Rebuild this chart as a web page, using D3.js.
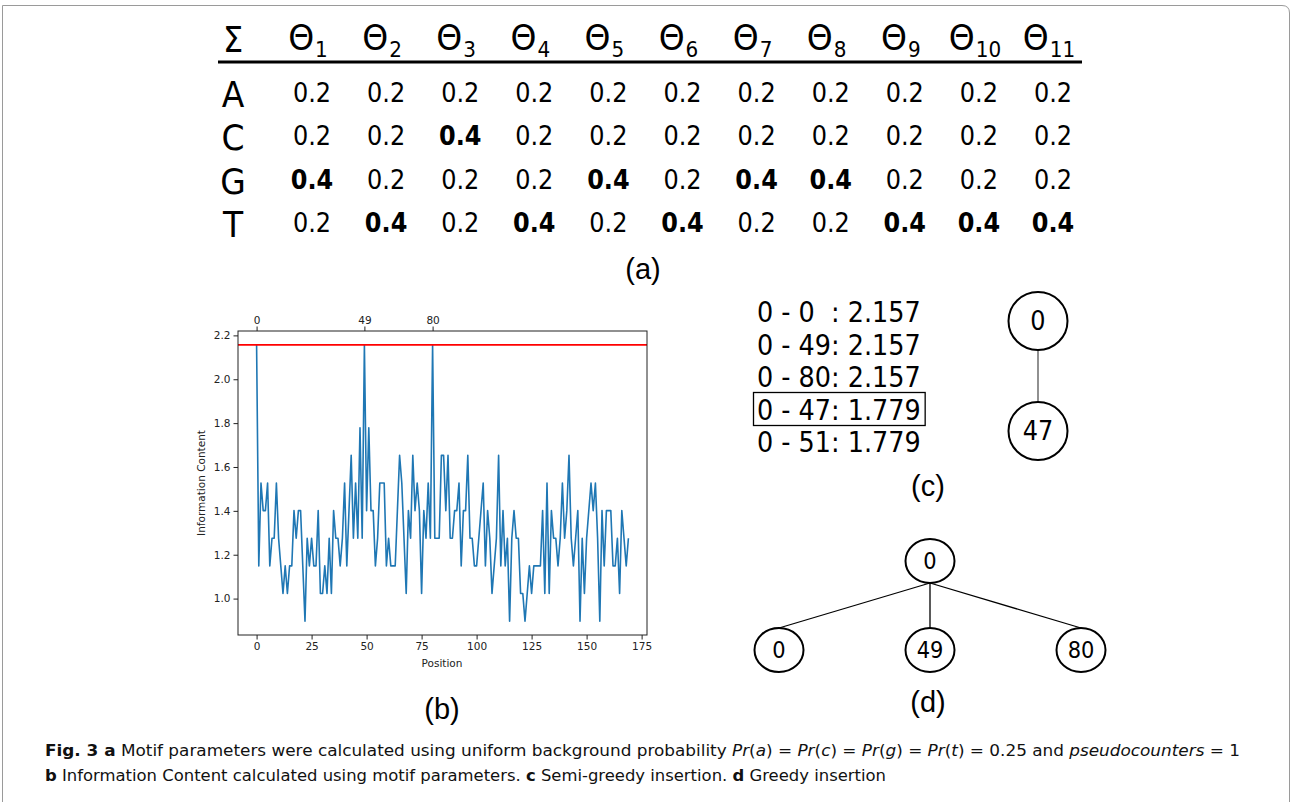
<!DOCTYPE html>
<html>
<head>
<meta charset="utf-8">
<script src="https://cdn.jsdelivr.net/npm/d3@7"></script>
<style>
  body { margin: 0; background: #fff; }
  svg { display: block; }
  text { font-family: "DejaVu Sans", sans-serif; }
</style>
</head>
<body>
<svg id="fig" width="1292" height="802"></svg>
<script>
// ---- data ----
const bases = ["A", "C", "G", "T"];
const thetaIds = [1, 2, 3, 4, 5, 6, 7, 8, 9, 10, 11];
const probA = [0.2, 0.2, 0.2, 0.2, 0.2, 0.2, 0.2, 0.2, 0.2, 0.2, 0.2];
const probC = [0.2, 0.2, 0.4, 0.2, 0.2, 0.2, 0.2, 0.2, 0.2, 0.2, 0.2];
const probG = [0.4, 0.2, 0.2, 0.2, 0.4, 0.2, 0.4, 0.4, 0.2, 0.2, 0.2];
const probT = [0.2, 0.4, 0.2, 0.4, 0.2, 0.4, 0.2, 0.2, 0.4, 0.4, 0.4];

// information content per position
const icValues = [
  2.157, 1.149, 1.527, 1.401, 1.401, 1.527, 1.149, 1.275, 1.275, 1.527,
  1.275, 1.149, 1.023, 1.149, 1.023, 1.149, 1.149, 1.401, 1.275, 1.401,
  1.401, 1.149, 0.897, 1.275, 1.149, 1.275, 1.149, 1.149, 1.401, 1.023,
  1.023, 1.149, 1.023, 1.275, 1.023, 1.401, 1.275, 1.275, 1.149, 1.275,
  1.527, 1.149, 1.401, 1.653, 1.275, 1.527, 1.275, 1.779, 1.275, 2.157,
  1.401, 1.779, 1.401, 1.401, 1.149, 1.275, 1.527, 1.527, 1.527, 1.149,
  1.275, 1.149, 1.149, 1.149, 1.401, 1.653, 1.527, 1.275, 1.023, 1.401,
  1.275, 1.653, 1.401, 1.527, 1.401, 1.023, 1.401, 1.275, 1.527, 1.275,
  2.157, 1.275, 1.275, 1.275, 1.653, 1.653, 1.401, 1.653, 1.275, 1.275,
  1.401, 1.401, 1.527, 1.149, 1.401, 1.401, 1.653, 1.275, 1.275, 1.149,
  1.149, 1.275, 1.401, 1.527, 1.149, 1.401, 1.275, 1.023, 1.149, 1.275,
  1.653, 1.149, 1.401, 1.149, 1.275, 0.897, 1.275, 1.401, 1.275, 1.275,
  1.023, 1.023, 0.897, 1.023, 1.149, 1.023, 1.149, 1.149, 1.149, 1.149,
  1.401, 1.023, 1.527, 1.023, 1.401, 1.275, 1.275, 1.149, 1.275, 1.527,
  1.275, 1.401, 1.653, 1.275, 1.149, 1.275, 1.401, 0.897, 1.275, 1.023,
  1.275, 1.401, 1.527, 1.401, 1.527, 1.275, 0.897, 1.401, 1.149, 1.401,
  1.401, 1.401, 1.149, 1.149, 1.275, 1.023, 1.401, 1.275, 1.149, 1.275
];
const threshold = 2.157;
const xTicks = [0, 25, 50, 75, 100, 125, 150, 175];
const yTicks = [1.0, 1.2, 1.4, 1.6, 1.8, 2.0, 2.2];
const topTicks = [0, 49, 80];

const scoreLines = ["0 - 0  : 2.157", "0 - 49: 2.157", "0 - 80: 2.157", "0 - 47: 1.779", "0 - 51: 1.779"];
const chosenLine = 3;
const semiGreedy = { name: "0", children: [{ name: "47" }] };
const greedy = { name: "0", children: [{ name: "0" }, { name: "49" }, { name: "80" }] };

const svg = d3.select("#fig");

// frame
svg.append("path")
  .attr("d", "M2.5,802 V5.5 H1282 Q1289.5,5.5 1289.5,13 V802")
  .attr("fill", "none").attr("stroke", "#9a9a9a").attr("stroke-width", 1);

// ---- (a) table ----
const rows = [probA, probC, probG, probT];
const col = d3.scalePoint().domain(d3.range(thetaIds.length)).range([312, 1053]);
const rowY = d3.scalePoint().domain(d3.range(bases.length)).range([102, 232]);
const stretch = 1.1;

function sText(g, x, y, fs) {
  return g.append("text")
    .attr("transform", `translate(${x},${y}) scale(1,${stretch})`)
    .attr("font-size", fs).attr("fill", "#000");
}

const tab = svg.append("g");
sText(tab, 233, 52, 32).attr("text-anchor", "middle").text("Σ");
thetaIds.forEach((k, i) => {
  const t = sText(tab, col(i) - 4, 50, 33).attr("text-anchor", "middle");
  t.append("tspan").text("Θ");
  t.append("tspan").attr("font-size", 20).attr("dx", 1).attr("dy", 6).text(k);
});
tab.append("line").attr("x1", 218).attr("x2", 1082).attr("y1", 62).attr("y2", 62)
  .attr("stroke", "#000").attr("stroke-width", 3);

bases.forEach((b, r) => {
  sText(tab, 233, rowY(r) + 5, 33).attr("text-anchor", "middle").text(b);
  rows[r].forEach((v, i) => {
    sText(tab, col(i), rowY(r), 24)
      .attr("text-anchor", "middle")
      .attr("font-weight", v > 0.3 ? "bold" : "normal")
      .text(v.toFixed(1));
  });
});

function panelLabel(x, y, s) {
  svg.append("text").attr("x", x).attr("y", y).attr("text-anchor", "middle")
    .style("font-family", "'Liberation Sans', Arial, sans-serif")
    .attr("font-size", 29).text(s);
}
panelLabel(643, 279, "(a)");

// ---- (b) line chart ----
const x = d3.scaleLinear().domain([-8.45, 177.45]).range([238, 647]);
const y = d3.scaleLinear().domain([0.834, 2.220]).range([635, 331]);
const chart = svg.append("g").attr("font-size", 10.5);

chart.append("path")
  .datum(icValues)
  .attr("fill", "none").attr("stroke", "#1f77b4").attr("stroke-width", 1.6)
  .attr("stroke-linejoin", "round")
  .attr("d", d3.line().x((d, i) => x(i)).y(d => y(d)));

chart.append("line")
  .attr("x1", x.range()[0]).attr("x2", x.range()[1])
  .attr("y1", y(threshold)).attr("y2", y(threshold))
  .attr("stroke", "#ff0000").attr("stroke-width", 1.8);

chart.append("rect")
  .attr("x", 238).attr("y", 331).attr("width", 409).attr("height", 304)
  .attr("fill", "none").attr("stroke", "#222").attr("stroke-width", 1);

function styleAxis(g) {
  g.select(".domain").remove();
  g.selectAll(".tick line").attr("stroke", "#222");
  g.selectAll(".tick text").attr("fill", "#222")
    .style("font-family", "'DejaVu Sans', sans-serif").attr("font-size", 10.5);
}
chart.append("g").attr("transform", "translate(0,635)")
  .call(d3.axisBottom(x).tickValues(xTicks).tickSize(4.5).tickPadding(3).tickFormat(d3.format("d")))
  .call(styleAxis);
chart.append("g").attr("transform", "translate(0,331)")
  .call(d3.axisTop(x).tickValues(topTicks).tickSize(4.5).tickPadding(3).tickFormat(d3.format("d")))
  .call(styleAxis);
chart.append("g").attr("transform", "translate(238,0)")
  .call(d3.axisLeft(y).tickValues(yTicks).tickSize(4.5).tickPadding(3).tickFormat(d3.format(".1f")))
  .call(styleAxis);

chart.append("text").attr("x", 442).attr("y", 667).attr("text-anchor", "middle")
  .attr("fill", "#222").text("Position");
chart.append("text").attr("transform", "translate(205,483) rotate(-90)")
  .attr("text-anchor", "middle").attr("fill", "#222").text("Information Content");

panelLabel(442, 719, "(b)");

// ---- (c) semi-greedy ----
const listY = d3.scalePoint().domain(d3.range(scoreLines.length)).range([322, 452]);
const list = svg.append("g");
scoreLines.forEach((s, i) => {
  const t = list.append("text")
    .attr("transform", `translate(757,${listY(i)}) scale(1,1.13)`)
    .attr("font-size", 25.5).style("white-space", "pre").text(s);
  if (i === chosenLine) {
    const bb = t.node().getBBox();
    list.append("rect")
      .attr("x", 753.5).attr("y", listY(i) - 27)
      .attr("width", bb.width + 8).attr("height", 33)
      .attr("fill", "none").attr("stroke", "#000").attr("stroke-width", 1.3);
  }
});
panelLabel(928, 496, "(c)");

// node spacing [horizontal, vertical] between siblings / levels
function drawTree(data, ox, oy, spacing, rx, ry, edgeColor, fs) {
  const root = d3.hierarchy(data);
  d3.tree().nodeSize(spacing).separation(() => 1)(root);
  const g = svg.append("g").attr("transform", `translate(${ox},${oy})`);
  g.selectAll("line.edge").data(root.links()).join("line")
    .attr("class", "edge")
    .attr("x1", d => d.source.x).attr("y1", d => d.source.y + ry)
    .attr("x2", d => d.target.x).attr("y2", d => d.target.y - ry)
    .attr("stroke", edgeColor).attr("stroke-width", 1.3);
  const n = g.selectAll("g.node").data(root.descendants()).join("g")
    .attr("class", "node").attr("transform", d => `translate(${d.x},${d.y})`);
  n.append("ellipse").attr("rx", rx).attr("ry", ry)
    .attr("fill", "#fff").attr("stroke", "#000").attr("stroke-width", 2);
  n.append("text").attr("text-anchor", "middle").attr("font-size", fs)
    .attr("transform", `translate(0,${fs * 0.36}) scale(1,1.1)`)
    .text(d => d.data.name);
}
drawTree(semiGreedy, 1038, 321, [60, 110], 29.5, 29, "#555", 24);

// ---- (d) greedy ----
drawTree(greedy, 930, 561, [151, 89], 24.5, 22, "#000", 21);
panelLabel(928, 712, "(d)");

// ---- caption ----
const cap = svg.append("g").style("font-family", "'Liberation Sans Narrow', 'DejaVu Sans Condensed', 'Liberation Sans', sans-serif")
  .attr("font-size", 16).attr("fill", "#111");
const line1 = cap.append("text").attr("x", 45).attr("y", 756)
  .attr("textLength", 1195).attr("lengthAdjust", "spacingAndGlyphs");
[["Fig. 3 a", "b"], [" Motif parameters were calculated using uniform background probability ", ""],
 ["Pr", "i"], ["(", ""], ["a", "i"], [") = ", ""], ["Pr", "i"], ["(", ""], ["c", "i"], [") = ", ""],
 ["Pr", "i"], ["(", ""], ["g", "i"], [") = ", ""], ["Pr", "i"], ["(", ""], ["t", "i"], [") = 0.25 and ", ""],
 ["pseudocounters", "i"], [" = 1", ""]].forEach(([s, f]) => {
  line1.append("tspan").style("white-space", "pre")
    .attr("font-weight", f === "b" ? "bold" : null)
    .attr("font-style", f === "i" ? "italic" : null).text(s);
});
const line2 = cap.append("text").attr("x", 45).attr("y", 781)
  .attr("textLength", 841).attr("lengthAdjust", "spacingAndGlyphs");
[["b", "b"], [" Information Content calculated using motif parameters. ", ""], ["c", "b"],
 [" Semi-greedy insertion. ", ""], ["d", "b"], [" Greedy insertion", ""]].forEach(([s, f]) => {
  line2.append("tspan").style("white-space", "pre")
    .attr("font-weight", f === "b" ? "bold" : null).text(s);
});
</script>
</body>
</html>
